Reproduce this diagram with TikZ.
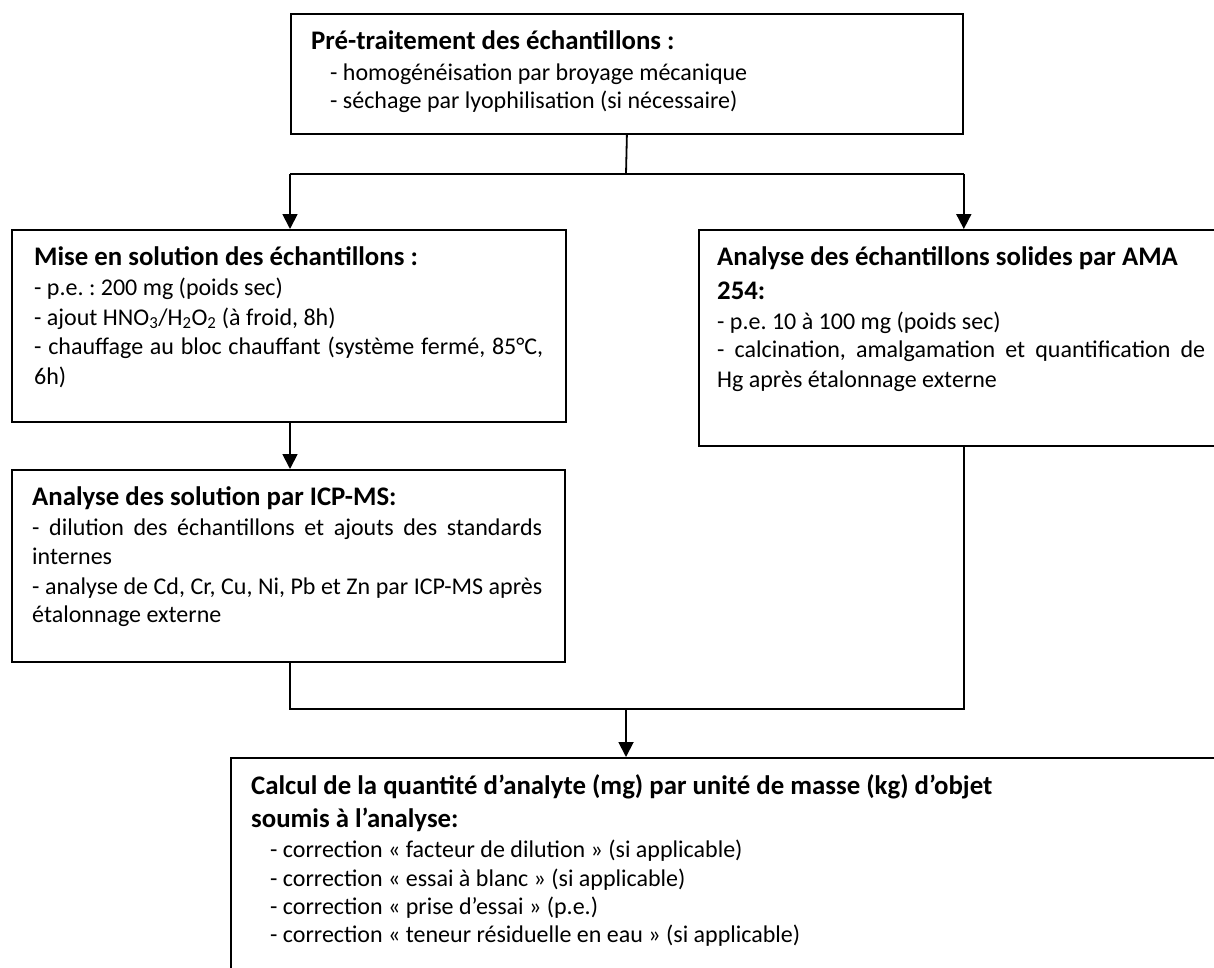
\documentclass[tikz,border=0pt]{standalone}
\usepackage{fontspec}
\setmainfont{Carlito}
\usetikzlibrary{arrows.meta}
\newcommand\firstln{\rule{0pt}{28pt}}
\newcommand\ttl[1]{{\fontsize{26.8}{29}\selectfont\bfseries #1}}
\frenchspacing
\begin{document}
\begin{tikzpicture}[x=1pt,y=-1pt,
  box/.style={draw, line width=1.8pt, anchor=north west, inner sep=0pt, rectangle},
  txt/.style={anchor=north west, inner sep=0pt, align=left, font=\fontsize{24}{29}\selectfont},
  conn/.style={line width=1.8pt, line join=miter},
  arr/.style={line width=1.8pt, -{Triangle[length=15pt,width=15pt]}}]
\useasboundingbox (0,0) rectangle (1214,967);
\clip (0,0) rectangle (1214,967);
% boxes
\node[box, minimum width=672pt, minimum height=120pt] (top) at (290,13) {};
\node[box, minimum width=554pt, minimum height=192pt] (left) at (11,229) {};
\node[box, minimum width=528pt, minimum height=216pt] (right) at (698,229) {};
\node[box, minimum width=553pt, minimum height=192pt] (icp) at (11,469) {};
\node[box, minimum width=1000pt, minimum height=260pt] (bottom) at (230,757) {};
% texts
\node[txt] (ttop) at (311,21) {\firstln\ttl{Pré-traitement des échantillons :}\\[2pt]
\hspace*{19pt}- homogénéisation par broyage mécanique\\[-1pt]
\hspace*{19pt}- séchage par lyophilisation (si nécessaire)};
\node[txt] (tleft) at (34,237) {\firstln\ttl{Mise en solution des échantillons :}\\[1pt]
- p.e. : 200 mg (poids sec)\\[1pt]
- ajout HNO\textsubscript{3}/H\textsubscript{2}O\textsubscript{2} (à froid, 8h)\\
\makebox[509pt][s]{- chauffage au bloc chauffant (système fermé, 85°C,}\\[1pt]
6h)};
\node[txt] (ticp) at (32,477) {\firstln\ttl{Analyse des solution par ICP-MS:}\\[1pt]
\makebox[510pt][s]{- dilution des échantillons et ajouts des standards}\\
internes\\[1pt]
\makebox[510pt][s]{- analyse de Cd, Cr, Cu, Ni, Pb et Zn par ICP-MS après}\\[-1pt]
étalonnage externe};
\node[txt] (tright) at (717,237) {\firstln\ttl{Analyse des échantillons solides par AMA}\\[5pt]
\ttl{254:}\\[1pt]
- p.e. 10 à 100 mg (poids sec)\\[-1pt]
\makebox[488pt][s]{- calcination, amalgamation et quantification de}\\[1pt]
Hg après étalonnage externe};
\node[txt] (tbottom) at (251,766) {\firstln\ttl{Calcul de la quantité d’analyte (mg) par unité de masse (kg) d’objet}\\[4pt]
\ttl{soumis à l’analyse:}\\[1pt]
\hspace*{19pt}- correction « facteur de dilution » (si applicable)\\
\hspace*{19pt}- correction « essai à blanc » (si applicable)\\[-1pt]
\hspace*{19pt}- correction « prise d’essai » (p.e.)\\[-1pt]
\hspace*{19pt}- correction « teneur résiduelle en eau » (si applicable)};
% connectors
\coordinate (split) at (626,174);
\coordinate (merge) at (626,709);
\draw[conn] (top.south) -- (split);
\draw[conn] (top.south west |- split) -- (top.south east |- split);
\draw[arr] (top.south west |- split) -- (top.south west |- left.north);
\draw[arr] (top.south east |- split) -- (top.south east |- right.north);
\draw[arr] (left.south -| top.south west) -- (icp.north -| top.south west);
\draw[conn] (icp.south -| top.south west) -- (top.south west |- merge) -- (top.south east |- merge) -- (right.south -| top.south east);
\draw[arr] (merge) -- (merge |- bottom.north);
\end{tikzpicture}
\end{document}
